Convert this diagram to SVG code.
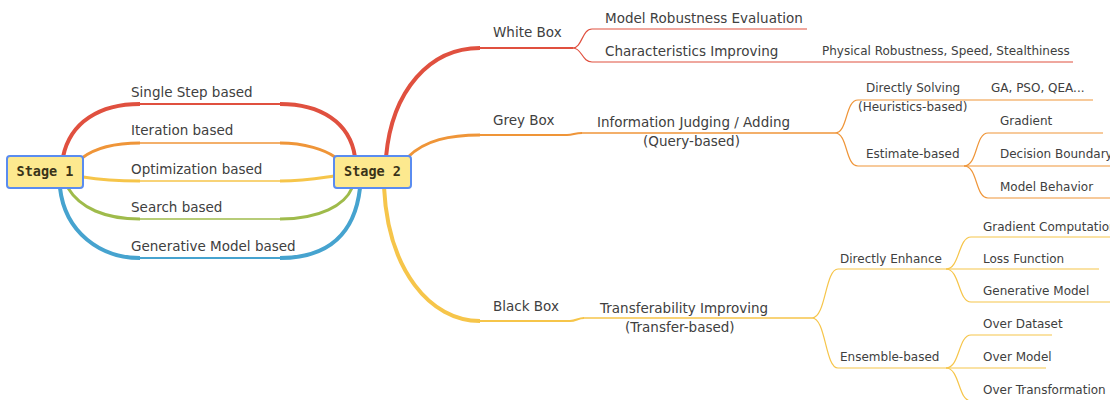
<svg xmlns="http://www.w3.org/2000/svg" width="1110" height="400" viewBox="0 0 1110 400">
<style>
.t{font-family:"DejaVu Sans","Verdana",sans-serif;font-size:13.5px;fill:#404040}
.s{font-family:"DejaVu Sans","Verdana",sans-serif;font-size:12px;fill:#404040}
.st{font-family:"DejaVu Sans Mono","Liberation Mono",monospace;font-size:13.5px;font-weight:bold;fill:#3a3318;text-anchor:middle}
.box{fill:#fde98f;stroke:#5a8cf0;stroke-width:2}
path{fill:none;stroke-linecap:butt}
.r{stroke:#e0503f}.o{stroke:#ef9538}.y{stroke:#f6c54a}.g{stroke:#9fbb4b}.b{stroke:#46a3cf}
.w4{stroke-width:4}.w3{stroke-width:3}.w2{stroke-width:2}.w15{stroke-width:1.6}.w1{stroke-width:1.2}
</style>
<g id="connectors">
<path class="r w2" d="M139 104 L281 104"/>
<path class="r w4" d="M63 157 C70 122 100 104 140 104 M280 104 C320 104 350 122 355 157"/>
<path class="o w15" d="M139 143 L281 143"/>
<path class="o w3" d="M82 158 C95 148 115 143 140 143 M280 143 C305 143 325 150 335 157"/>
<path class="y w15" d="M139 181 L281 181"/>
<path class="y w3" d="M83 177 C95 179 115 181 140 181 M280 181 C305 181 320 178 334 176"/>
<path class="g w15" d="M139 219 L281 219"/>
<path class="g w3" d="M68 188 C80 208 105 219 140 219 M280 219 C320 219 345 205 352 188"/>
<path class="b w2" d="M139 258 L281 258"/>
<path class="b w4" d="M60 188 C65 232 100 258 140 258 M280 258 C330 258 355 232 360 188"/>
<path class="r w4" d="M386 157 C392 90 430 48 480 48"/>
<path class="r w2" d="M479 48 L573 48"/>
<path class="r w1" d="M573 48 C582 48 582 29 592 29 L807 29"/>
<path class="r w1" d="M573 48 C582 48 582 62 592 62 L1073 62"/>
<path class="o w3" d="M408 157 C425 140 450 135 480 135"/>
<path class="o w2" d="M479 135 L567 135 C573 135 575 133 582 133"/>
<path class="o w15" d="M581 133 L835 133"/>
<path class="o w1" d="M835 133 C848 133 845 100 858 100 L1093 100"/>
<path class="o w1" d="M835 133 C848 133 845 166 858 166 L964 166"/>
<path class="o w1" d="M964 166 C978 166 975 133 988 133 L1103 133"/>
<path class="o w1" d="M964 166 L1110 166"/>
<path class="o w1" d="M964 166 C978 166 975 198 988 198 L1110 198"/>
<path class="y w4" d="M384 187 C388 270 430 321 480 321"/>
<path class="y w2" d="M479 321 L570 321 C576 321 578 318 584 318"/>
<path class="y w15" d="M583 318 L812 318"/>
<path class="y w1" d="M812 318 C826 318 825 269 838 269 L946 269"/>
<path class="y w1" d="M812 318 C826 318 825 368 838 368 L946 368"/>
<path class="y w1" d="M946 269 C960 269 958 237 971 237 L1110 237"/>
<path class="y w1" d="M946 269 L1099 269"/>
<path class="y w1" d="M946 269 C960 269 958 302 971 302 L1110 302"/>
<path class="y w1" d="M946 368 C960 368 958 335 971 335 L1052 335"/>
<path class="y w1" d="M946 368 L1046 368"/>
<path class="y w1" d="M946 368 C960 368 958 401 971 401 L1110 401"/>
</g>
<g id="stage1"><rect class="box" x="7" y="156" width="76" height="32" rx="3"/><text class="st" x="45" y="176">Stage 1</text></g>
<g id="stage2"><rect class="box" x="334" y="156" width="77" height="32" rx="3"/><text class="st" x="372.5" y="176">Stage 2</text></g>
<g id="single-step"><text class="t" x="131" y="97">Single Step based</text></g>
<g id="iteration"><text class="t" x="131" y="135">Iteration based</text></g>
<g id="optimization"><text class="t" x="131" y="174">Optimization based</text></g>
<g id="search"><text class="t" x="131" y="212">Search based</text></g>
<g id="generative"><text class="t" x="131" y="251">Generative Model based</text></g>
<g id="white-box"><text class="t" x="493" y="37">White Box</text></g>
<g id="model-robustness"><text class="t" x="605" y="23">Model Robustness Evaluation</text></g>
<g id="characteristics"><text class="t" x="605" y="56">Characteristics Improving</text></g>
<g id="physical"><text class="s" x="822" y="55">Physical Robustness, Speed, Stealthiness</text></g>
<g id="grey-box"><text class="t" x="493" y="125">Grey Box</text></g>
<g id="info-judging"><text class="t" x="597" y="127">Information Judging / Adding</text><text class="t" x="643" y="146">(Query-based)</text></g>
<g id="directly-solving"><text class="s" x="866" y="92">Directly Solving</text><text class="s" x="858" y="111">(Heuristics-based)</text></g>
<g id="ga-pso"><text class="s" x="991" y="92">GA, PSO, QEA...</text></g>
<g id="estimate"><text class="s" x="866" y="158">Estimate-based</text></g>
<g id="gradient"><text class="s" x="1000" y="125">Gradient</text></g>
<g id="decision"><text class="s" x="1000" y="158">Decision Boundary</text></g>
<g id="model-behavior"><text class="s" x="1000" y="191">Model Behavior</text></g>
<g id="black-box"><text class="t" x="493" y="311">Black Box</text></g>
<g id="transferability"><text class="t" x="600" y="313">Transferability Improving</text><text class="t" x="625" y="332">(Transfer-based)</text></g>
<g id="directly-enhance"><text class="s" x="840" y="263">Directly Enhance</text></g>
<g id="ensemble"><text class="s" x="840" y="361">Ensemble-based</text></g>
<g id="gradient-comp"><text class="s" x="983" y="231">Gradient Computation</text></g>
<g id="loss"><text class="s" x="983" y="263">Loss Function</text></g>
<g id="gen-model"><text class="s" x="983" y="295">Generative Model</text></g>
<g id="over-dataset"><text class="s" x="983" y="328">Over Dataset</text></g>
<g id="over-model"><text class="s" x="983" y="361">Over Model</text></g>
<g id="over-transformation"><text class="s" x="983" y="394">Over Transformation</text></g>
</svg>
